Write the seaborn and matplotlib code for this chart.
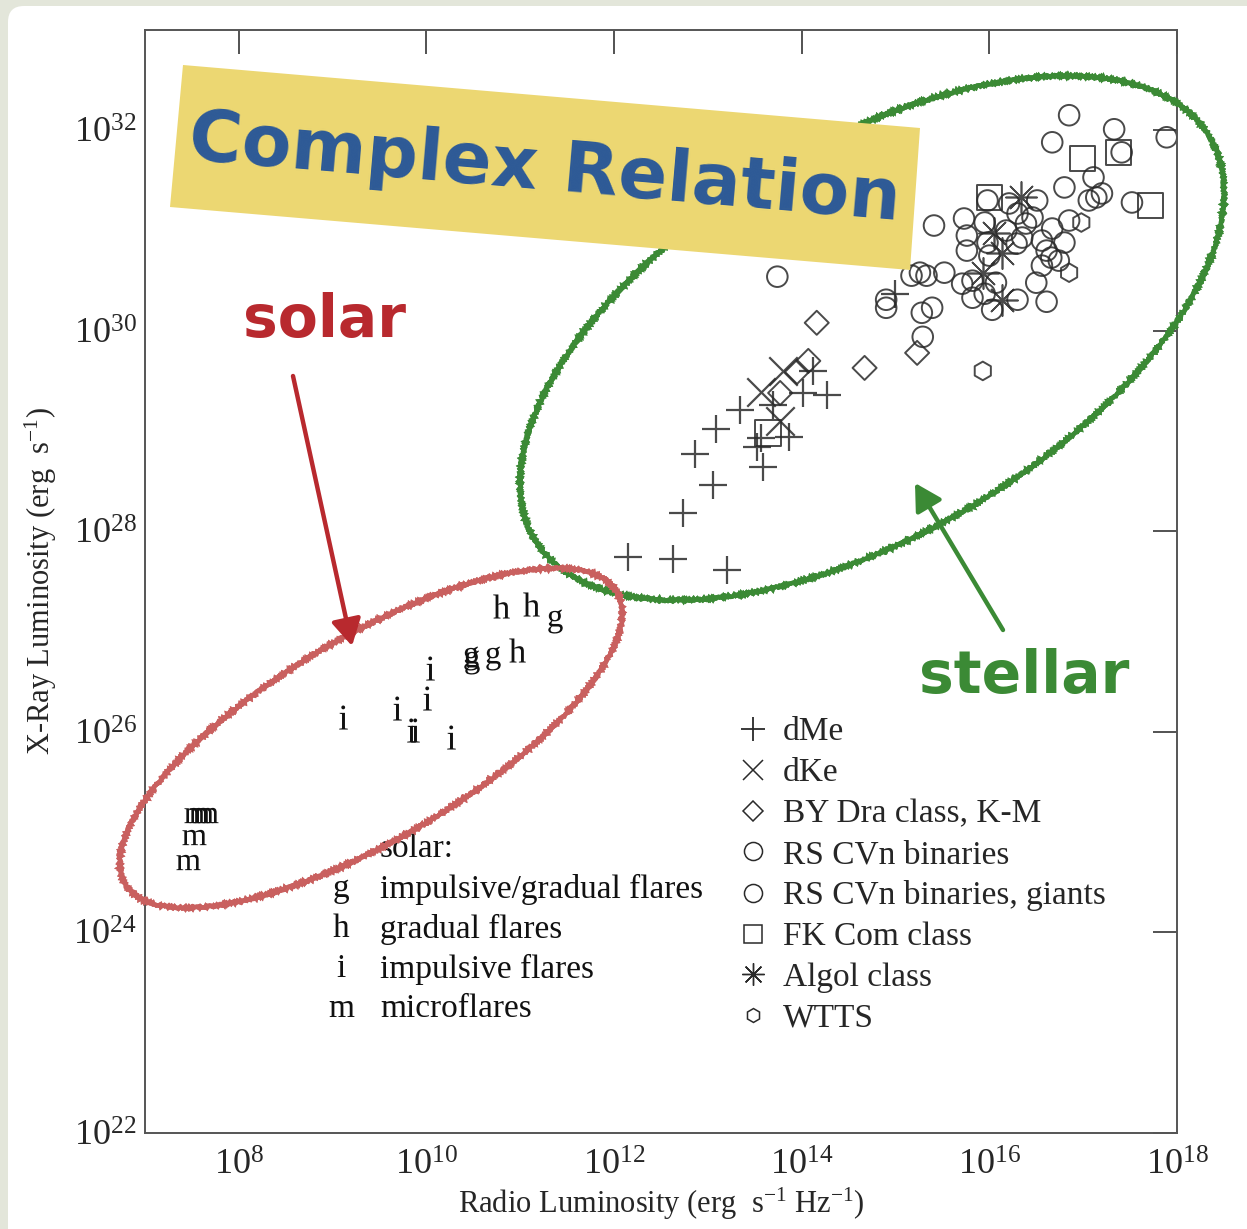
import numpy as np
import pandas as pd
import matplotlib
matplotlib.use("Agg")
import matplotlib.pyplot as plt
import seaborn as sns
from matplotlib.patches import Ellipse, Polygon, FancyBboxPatch, FancyArrowPatch
from matplotlib.transforms import IdentityTransform
from matplotlib.lines import Line2D

# ---------------- data (log10 of luminosities) ----------------
dme_lx = [12.15, 12.63, 13.20, 12.73, 13.05, 12.86, 13.09, 13.34, 13.59, 13.52,
          13.57, 13.86, 13.69, 14.01, 14.27, 14.12, 14.99]
dme_ly = [27.74, 27.72, 27.61, 28.18, 28.46, 28.77, 29.02, 29.21, 28.64, 28.84,
          28.93, 28.94, 29.26, 29.38, 29.36, 29.60, 30.37]

dke_lx = [13.57, 13.80, 13.77]
dke_ly = [29.39, 29.60, 29.10]

bydra_lx = [13.95, 14.07, 13.77, 14.67, 14.16, 15.23]
bydra_ly = [29.59, 29.70, 29.38, 29.63, 30.08, 29.78]

rscvn_lx = [15.41, 15.73, 15.76, 15.76, 15.95, 15.98, 16.21, 16.46, 16.39, 16.30,
            16.18, 16.35, 16.29, 15.98, 16.00, 15.17, 15.26, 15.33, 15.52, 15.71,
            15.82, 16.07, 15.82, 15.95, 16.03, 14.90, 14.90, 15.28, 15.39, 13.74,
            15.29, 16.30]
rscvn_ly = [31.05, 31.12, 30.95, 30.80, 31.08, 31.30, 31.27, 31.13, 31.07, 31.17,
            31.00, 30.93, 30.87, 30.88, 30.75, 30.55, 30.58, 30.55, 30.58, 30.47,
            30.50, 30.48, 30.33, 30.37, 30.21, 30.31, 30.23, 30.18, 30.23, 30.54,
            29.94, 30.31]

giants_lx = [16.85, 17.33, 16.67, 17.89, 17.41, 16.80, 17.11, 17.20, 17.14, 17.06,
             17.52, 16.51, 16.56, 16.67, 16.80, 16.85, 16.61, 16.66, 16.74, 16.56,
             16.50, 16.61]
giants_ly = [32.15, 32.01, 31.88, 31.93, 31.78, 31.43, 31.53, 31.37, 31.33, 31.30,
             31.28, 31.30, 30.90, 31.02, 30.88, 31.10, 30.80, 30.73, 30.70, 30.65,
             30.48, 30.29]

fkcom_lx = [16.99, 17.38, 17.72, 16.00, 13.64]
fkcom_ly = [31.72, 31.78, 31.25, 31.33, 28.98]

algol_lx = [16.34, 16.05, 16.13, 15.93, 16.14]
algol_ly = [31.33, 30.98, 30.78, 30.58, 30.31]

wtts_lx = [15.93, 16.98, 16.85]
wtts_ly = [29.60, 31.08, 30.58]

# solar flares (letter markers)
solar_g_lx = [11.37, 10.47, 10.49, 10.71]
solar_g_ly = [27.11, 26.74, 26.70, 26.74]
solar_h_lx = [10.79, 11.11, 10.97]
solar_h_ly = [27.26, 27.28, 26.82]
solar_i_lx = [10.04, 10.01, 9.69, 9.11, 9.84, 9.88, 10.26]
solar_i_ly = [26.64, 26.34, 26.24, 26.15, 26.02, 26.02, 25.95]
solar_m_lx = [7.54, 7.60, 7.65, 7.52, 7.46]
solar_m_ly = [25.17, 25.17, 25.17, 24.95, 24.70]

x_ticks_exp = [8, 10, 12, 14, 16, 18]
y_ticks_exp = [22, 24, 26, 28, 30, 32]
x_tick_labels = [r"$\mathregular{10^{%d}}$" % e for e in x_ticks_exp]
y_tick_labels = [r"$\mathregular{10^{%d}}$" % e for e in y_ticks_exp]

stellar_labels = ["dMe", "dKe", "BY Dra class, K-M", "RS CVn binaries",
                  "RS CVn binaries, giants", "FK Com class", "Algol class", "WTTS"]
solar_keys = ["g", "h", "i", "m"]
solar_descr = ["impulsive/gradual flares", "gradual flares", "impulsive flares", "microflares"]

# ---------------- style ----------------
sns.set_style("white")
plt.rcParams['font.family'] = ['Liberation Serif', 'DejaVu Serif']
plt.rcParams['mathtext.fontset'] = 'custom'
plt.rcParams['mathtext.rm'] = 'Liberation Serif'
plt.rcParams['mathtext.it'] = 'Liberation Serif:italic'
plt.rcParams['mathtext.bf'] = 'Liberation Serif:bold'

W, H = 1247, 1229
fig = plt.figure(figsize=(W / 100, H / 100), dpi=100)
fig.patch.set_facecolor('#e3e6da')

panel = FancyBboxPatch((8, -30), W + 30, H - 6 + 30, boxstyle="round,pad=0,rounding_size=16",
                       transform=IdentityTransform(), fc='white', ec='none', zorder=-5)
fig.add_artist(panel)

ax = fig.add_axes([145 / W, 1 - 1133 / H, 1032 / W, 1103 / H])
ax.set_facecolor('white')
ax.set_xscale('log')
ax.set_yscale('log')
ax.set_xlim(1e7, 1e18)
ax.set_ylim(1e22, 1e33)

ink = '#2a2a2a'

def pw(v):
    return [10.0 ** t for t in v]

def open_scatter(lx, ly, marker, s, lw=1.4):
    sns.scatterplot(x=pw(lx), y=pw(ly), marker=marker, s=s, ax=ax, legend=False)
    c = ax.collections[-1]
    c.set_facecolor('none')
    c.set_edgecolor(ink)
    c.set_linewidth(lw)
    c.set_alpha(0.85)

def line_scatter(lx, ly, marker, s, lw=1.6):
    sns.scatterplot(x=pw(lx), y=pw(ly), marker=marker, s=s, ax=ax, legend=False,
                    color=ink, linewidth=lw)
    ax.collections[-1].set_alpha(0.85)

line_scatter(dme_lx, dme_ly, '+', 420)
line_scatter(dke_lx, dke_ly, 'x', 420)
open_scatter(bydra_lx, bydra_ly, 'D', 150)
open_scatter(rscvn_lx, rscvn_ly, 'o', 220)
open_scatter(giants_lx, giants_ly, 'o', 220)
open_scatter(fkcom_lx, fkcom_ly, 's', 330)
line_scatter(algol_lx, algol_ly, (8, 2, 0), 500, lw=1.2)
open_scatter(wtts_lx, wtts_ly, 'h', 180)

for key, lx, ly in [('g', solar_g_lx, solar_g_ly), ('h', solar_h_lx, solar_h_ly),
                    ('i', solar_i_lx, solar_i_ly), ('m', solar_m_lx, solar_m_ly)]:
    sns.scatterplot(x=pw(lx), y=pw(ly), marker=r"$\mathregular{%s}$" % key, s=300,
                    color='#111111', linewidth=0, ax=ax, legend=False)

# axes ticks
ax.set_xticks(pw(x_ticks_exp))
ax.set_xticklabels(x_tick_labels)
ax.set_yticks(pw(y_ticks_exp))
ax.set_yticklabels(y_tick_labels)
ax.minorticks_off()
ax.tick_params(which='major', direction='in', length=17, width=1.3, color='#444',
               top=True, right=True, labelsize=26, pad=12)
ax.tick_params(axis='y', pad=6)
for sp in ax.spines.values():
    sp.set_color('#555')
    sp.set_linewidth(1.4)
    sp.set_visible(True)

ax.set_xlabel(r"Radio Luminosity (erg  s$^{\mathregular{-1}}$ Hz$^{\mathregular{-1}}$)",
              fontsize=22, labelpad=2)
ax.set_ylabel(r"X-Ray Luminosity (erg  s$^{\mathregular{-1}}$)", fontsize=22, labelpad=10)

# stellar legend
mk = [('+', 17, 1.3), ('x', 14, 1.1), ('D', 10, 1.1), ('o', 13, 1.1), ('o', 13, 1.1),
      ('s', 13, 1.1), ((8, 2, 0), 16, 1.0), ('h', 10, 1.1)]
handles = [Line2D([], [], ls='none', marker=m, ms=ms, mfc='none', mec=ink, mew=mw, color=ink)
           for m, ms, mw in mk]
leg = ax.legend(handles, stellar_labels, loc='upper left',
                bbox_to_anchor=(738 / W, 1 - 717 / H), bbox_transform=fig.transFigure,
                frameon=False, prop={'family': 'Liberation Serif', 'size': 24},
                handlelength=0.9, handletextpad=0.45, labelspacing=0.31,
                borderpad=0, borderaxespad=0)

# solar legend
def fpx(px, py):
    return px / W, 1 - py / H

fig.text(*fpx(380, 849), "solar:", fontsize=24, va='center', ha='left', color='#111')
for k, (key, desc) in enumerate(zip(solar_keys, solar_descr)):
    y = 889 + 40 * k
    fig.text(*fpx(341, y), key, fontsize=24, va='center', ha='center', color='#111')
    fig.text(*fpx(380, y), desc, fontsize=24, va='center', ha='left', color='#111')

# ---------------- annotations ----------------
def ell(cx, cy, w, h, ang, col):
    for k in range(2):
        e = Ellipse((cx, H - cy), w, h, angle=ang, transform=IdentityTransform(),
                    fill=False, ec=col, lw=3.2, zorder=10)
        e.set_sketch_params(scale=1.0, length=2.5, randomness=2)
        fig.add_artist(e)

ell(872, 338, 786, 391, 30.8, '#3b8a35')
ell(371, 738, 572, 202, 30.7, '#c9605f')

annot_font = ['DejaVu Sans']
box = Polygon([(183, H - 65), (920, H - 128), (910, H - 270), (170, H - 207)],
              closed=True, transform=IdentityTransform(), fc='#ecd772', ec='none', zorder=11)
fig.add_artist(box)
fig.text(*fpx(545, 170), "Complex Relation", fontsize=52, fontweight='bold',
         family=annot_font, color='#2d5a97', rotation=-4.9,
         ha='center', va='center', rotation_mode='anchor', zorder=12)

fig.text(*fpx(325, 320), "solar", fontsize=42, fontweight='bold',
         family=annot_font, color='#b8292e', ha='center', va='center', zorder=12)
fig.text(*fpx(1024, 676), "stellar", fontsize=42, fontweight='bold',
         family=annot_font, color='#3b8a35', ha='center', va='center', zorder=12)

def arrow(p0, p1, col):
    a = FancyArrowPatch((p0[0], H - p0[1]), (p1[0], H - p1[1]), transform=IdentityTransform(),
                        arrowstyle='-|>,head_length=16,head_width=9', mutation_scale=1,
                        color=col, lw=3.2, zorder=12, shrinkA=0, shrinkB=0)
    fig.add_artist(a)

arrow((293, 376), (352, 646), '#b8292e')
arrow((1003, 630), (915, 483), '#3b8a35')

fig.savefig("out.png", dpi=100, facecolor=fig.get_facecolor())
